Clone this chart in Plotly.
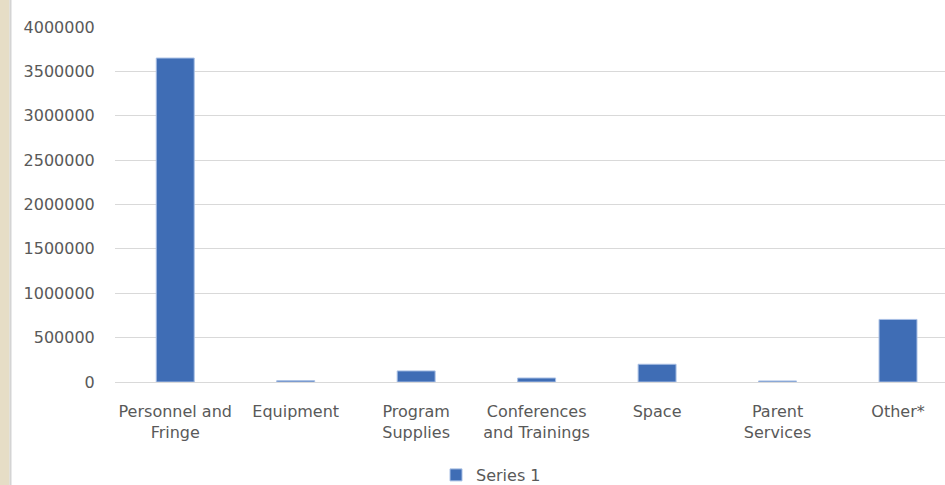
import plotly.graph_objects as go

categories = ["Personnel and<br>Fringe", "Equipment", "Program<br>Supplies",
              "Conferences<br>and Trainings", "Space", "Parent<br>Services", "Other*"]
series_name = "Series 1"
values = [3650000, 15000, 125000, 45000, 200000, 12000, 705000]
y_ticks = [0, 500000, 1000000, 1500000, 2000000, 2500000, 3000000, 3500000, 4000000]

W, H = 945, 485
ml, mr, mt, mb = 115, 0, 27, 103
pw = W - ml - mr

font = "'DejaVu Sans', sans-serif"
fig = go.Figure()
fig.add_trace(go.Bar(
    x=list(range(len(categories))), y=values, name=series_name,
    marker=dict(color="#3F6DB5", line=dict(color="#A8BFE4", width=1)),
    width=0.315, showlegend=True,
))

fig.update_layout(
    width=W, height=H,
    margin=dict(l=ml, r=mr, t=mt, b=mb, autoexpand=False),
    paper_bgcolor="white", plot_bgcolor="white",
    font=dict(family=font, size=16, color="#595959"),
    showlegend=True,
    legend=dict(orientation="h", xref="container", yref="container",
                x=0.5196, xanchor="center", y=1 - 475 / H, yanchor="middle",
                font=dict(size=16, color="#595959"), itemwidth=30),
    xaxis=dict(tickmode="array", tickvals=list(range(len(categories))), ticktext=categories,
               range=[-0.5, 6.39], showgrid=False, zeroline=False, showline=False,
               ticks="outside", ticklen=15, tickcolor="rgba(0,0,0,0)", fixedrange=True,
               automargin=False),
    yaxis=dict(range=[0, 4000000], tickmode="array", tickvals=y_ticks,
               ticktext=[str(v) for v in y_ticks],
               showgrid=True, gridcolor="#D9D9D9", gridwidth=1.3,
               zeroline=True, zerolinecolor="#D9D9D9", zerolinewidth=1.3,
               ticks="outside", ticklen=16, tickcolor="rgba(0,0,0,0)", showline=False,
               automargin=False, fixedrange=True),
    bargap=0.5,
)

# decorative left strip of the slide
px = lambda p: (p - ml) / pw
fig.add_shape(type="rect", xref="paper", yref="paper", x0=px(0), x1=px(9.5), y0=-1, y1=2,
              fillcolor="#E6DDC6", line=dict(width=0), layer="below")
fig.add_shape(type="rect", xref="paper", yref="paper", x0=px(9.5), x1=px(11.5), y0=-1, y1=2,
              fillcolor="#D4D4D4", line=dict(width=0), layer="below")

fig.write_html("out.html", config={"displayModeBar": False},
               post_script="document.body.style.margin='0';document.body.style.overflow='hidden';")
